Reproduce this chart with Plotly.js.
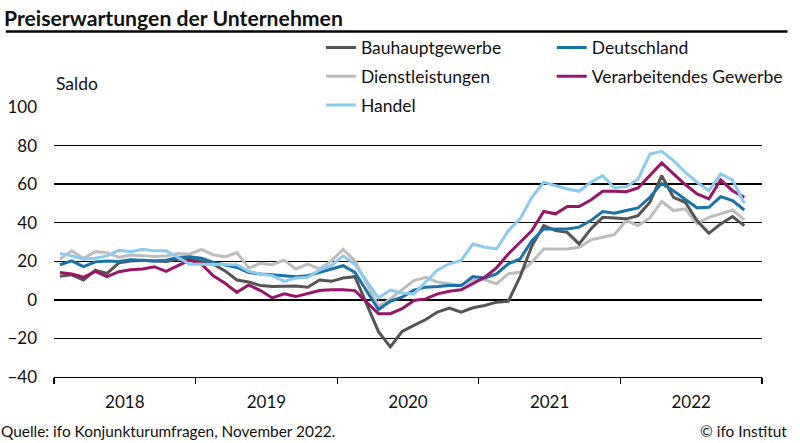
<!DOCTYPE html>
<html>
<head>
<meta charset="utf-8">
<script src="https://cdn.plot.ly/plotly-3.0.1.min.js"></script>
<style>html,body{margin:0;padding:0;background:#fff;}#chart{width:800px;height:443px;}</style>
</head>
<body>
<div id="chart"></div>
<script>
// Monthly data, January 2018 – November 2022 (index 0 = Jan 2018)
const monthIndex = Array.from({length: 59}, (_, i) => i);
const yearLabels = ["2018", "2019", "2020", "2021", "2022"];
const yearCenters = [5.5, 17.5, 29.5, 41.5, 53.5];
const yearBounds = [-0.5, 11.5, 23.5, 35.5, 47.5, 59.5];

const bauhauptgewerbe = [12.3,13,10.3,15.4,13.7,19.2,20.2,20.6,20.2,19.9,21,21,
  20,18.5,15,10.3,9.3,7.4,6.9,6.9,7.2,6.5,10.3,9.6,
  11.3,12,-2,-16.5,-24.4,-16.4,-13.2,-10.2,-6.3,-4.3,-6.4,-4.1,
  -2.9,-1.2,-0.7,12,28,38.5,35.9,35,29,36.8,42.8,42.5,
  42,43.7,50.6,64.4,53.2,50.6,41,34.5,39.4,43.2,38.5];
const deutschland = [18.2,20.2,17.2,19.7,20.2,19.9,20.8,20.6,20.2,20.6,22,22.3,
  21.6,19.4,18.2,16.8,14.2,13.4,13,12.5,12,12.5,14.2,16,
  17.7,14.2,4.5,-5.1,-0.7,1.4,5,6.6,6.9,7.4,7.4,12.1,
  11.4,13.5,18.7,21.2,30.7,36.8,36.8,36.8,37.7,41.1,45.8,44.9,
  46.3,47.7,53.2,60.4,56.6,52.3,47.7,48,53.5,51.5,46.6];
const dienstleistungen = [21.1,25.4,21.6,25,24.5,22,23.3,22.8,22.5,22.8,24,23.7,
  26.2,23.3,22.3,24.5,16.5,19,18.2,20.6,16,18.5,16,20.2,
  26.2,20.2,8.3,-3.4,0.5,5.1,10,11.7,9.2,8.3,7.4,10.4,
  10.4,8.3,13.5,14.3,19.5,26.4,26.4,26.4,27.3,31.1,32.5,33.9,
  41.1,38.5,42.5,51,46.3,47.2,39.4,42.8,44.6,46.6,41.5];
const verarbeitendes = [14.2,13.4,11.7,14.8,12,14.6,15.6,16,17.2,14.8,17.7,20.6,
  18.5,12.5,8.6,3.9,7.7,4.8,1,3.1,1.7,3.1,4.8,5.3,
  5.3,4.8,-1.2,-7.2,-7.2,-4.6,-0.3,0.5,3.1,4.5,5.2,8.6,
  11.7,16.6,23.8,29.9,35.9,45.8,44.6,48.4,48.4,51.8,56.3,56.3,
  56.1,58,64.4,71,65.3,59.8,54.9,52.3,62.2,56.6,53.2];
const handel = [24,22.8,21.1,21.6,22.8,25.7,25,26.2,25.4,25.4,22,18.5,
  18.5,18.5,18.5,18.2,14.8,13.4,12.5,9.6,11.3,11.7,15.4,17.7,
  22.8,18.5,9.7,1,5.1,3.5,3.1,9.2,15.5,18.7,20.4,29,
  27.3,26.4,35.9,42,53.2,61,59.2,57.5,56.3,61,64.4,58,
  58.7,62.7,75.6,77,72.2,66.1,61,56.6,65.3,62.2,50];

const FONT = "Lato, 'Noto Sans', sans-serif";

function tr(name, y, color, legend, rank) {
  return {
    type: "scatter", mode: "lines", x: monthIndex, y: y, name: name,
    line: {color: color, width: 3},
    legend: legend, legendgroup: name, legendrank: rank,
    hoverinfo: "skip"
  };
}

const data = [
  tr("Dienstleistungen", dienstleistungen, "#bdbdbd", "legend", 2),
  tr("Bauhauptgewerbe", bauhauptgewerbe, "#555555", "legend", 1),
  tr("Deutschland", deutschland, "#1b72a8", "legend2", 1),
  tr("Verarbeitendes Gewerbe", verarbeitendes, "#98156a", "legend2", 2),
  tr("Handel", handel, "#8ccbef", "legend", 3)
];

const legendCommon = {
  orientation: "v", xanchor: "left", yanchor: "top",
  font: {family: FONT, size: 17.5, color: "#111"},
  bgcolor: "rgba(0,0,0,0)", borderwidth: 0,
  traceorder: "grouped", tracegroupgap: 3, itemwidth: 30,
  itemclick: false, itemdoubleclick: false
};

const layout = {
  width: 800, height: 443,
  margin: {l: 54, r: 27, t: 107, b: 66},
  paper_bgcolor: "#fff", plot_bgcolor: "#fff",
  font: {family: FONT, size: 15, color: "#111"},
  showlegend: true,
  legend: Object.assign({x: 0.377, y: 1.287}, legendCommon),
  legend2: Object.assign({x: 0.703, y: 1.287}, legendCommon),
  xaxis: {
    range: [-0.5, 59.5], fixedrange: true,
    tickmode: "array", tickvals: yearCenters, ticktext: yearLabels,
    ticks: "", showgrid: false, zeroline: false,
    showline: true, linecolor: "#000", linewidth: 1.3,
    tickfont: {family: FONT, size: 17, color: "#111"},
    ticklabelstandoff: 9,
    minor: {tickmode: "array", tickvals: yearBounds, ticks: "outside", ticklen: 6, tickcolor: "#000", tickwidth: 1.3, showgrid: false}
  },
  yaxis: {
    range: [-40, 100], fixedrange: true,
    tickmode: "array", tickvals: [-40, -20, 0, 20, 40, 60, 80, 100],
    showgrid: true, gridcolor: "#000", gridwidth: 1.3,
    zeroline: true, zerolinecolor: "#000", zerolinewidth: 1.3,
    showline: false, ticks: "",
    tickfont: {family: FONT, size: 17, color: "#111"},
    ticklabelstandoff: 16
  },
  shapes: [
    {type: "line", xref: "paper", yref: "paper", x0: -0.068, x1: 1.036, y0: 1.28, y1: 1.28,
     line: {color: "#000", width: 2.5}}
  ],
  annotations: [
    {text: "<b>Preiserwartungen der Unternehmen</b>", xref: "paper", yref: "paper",
     x: -0.074, y: 1.331, xanchor: "left", yanchor: "middle", showarrow: false,
     font: {family: FONT, size: 21.2, color: "#111"}},
    {text: "Saldo", xref: "paper", yref: "paper", x: 0.0, y: 1.087,
     xanchor: "left", yanchor: "middle", showarrow: false,
     font: {family: FONT, size: 17.5, color: "#111"}},
    {text: "Quelle: ifo Konjunkturumfragen, November 2022.", xref: "paper", yref: "paper",
     x: -0.078, y: -0.2, xanchor: "left", yanchor: "middle", showarrow: false,
     font: {family: FONT, size: 15.4, color: "#111"}},
    {text: "© ifo Institut", xref: "paper", yref: "paper",
     x: 1.038, y: -0.2, xanchor: "right", yanchor: "middle", showarrow: false,
     font: {family: FONT, size: 15.4, color: "#111"}}
  ]
};

Plotly.newPlot("chart", data, layout, {staticPlot: true, displayModeBar: false});
</script>
</body>
</html>
